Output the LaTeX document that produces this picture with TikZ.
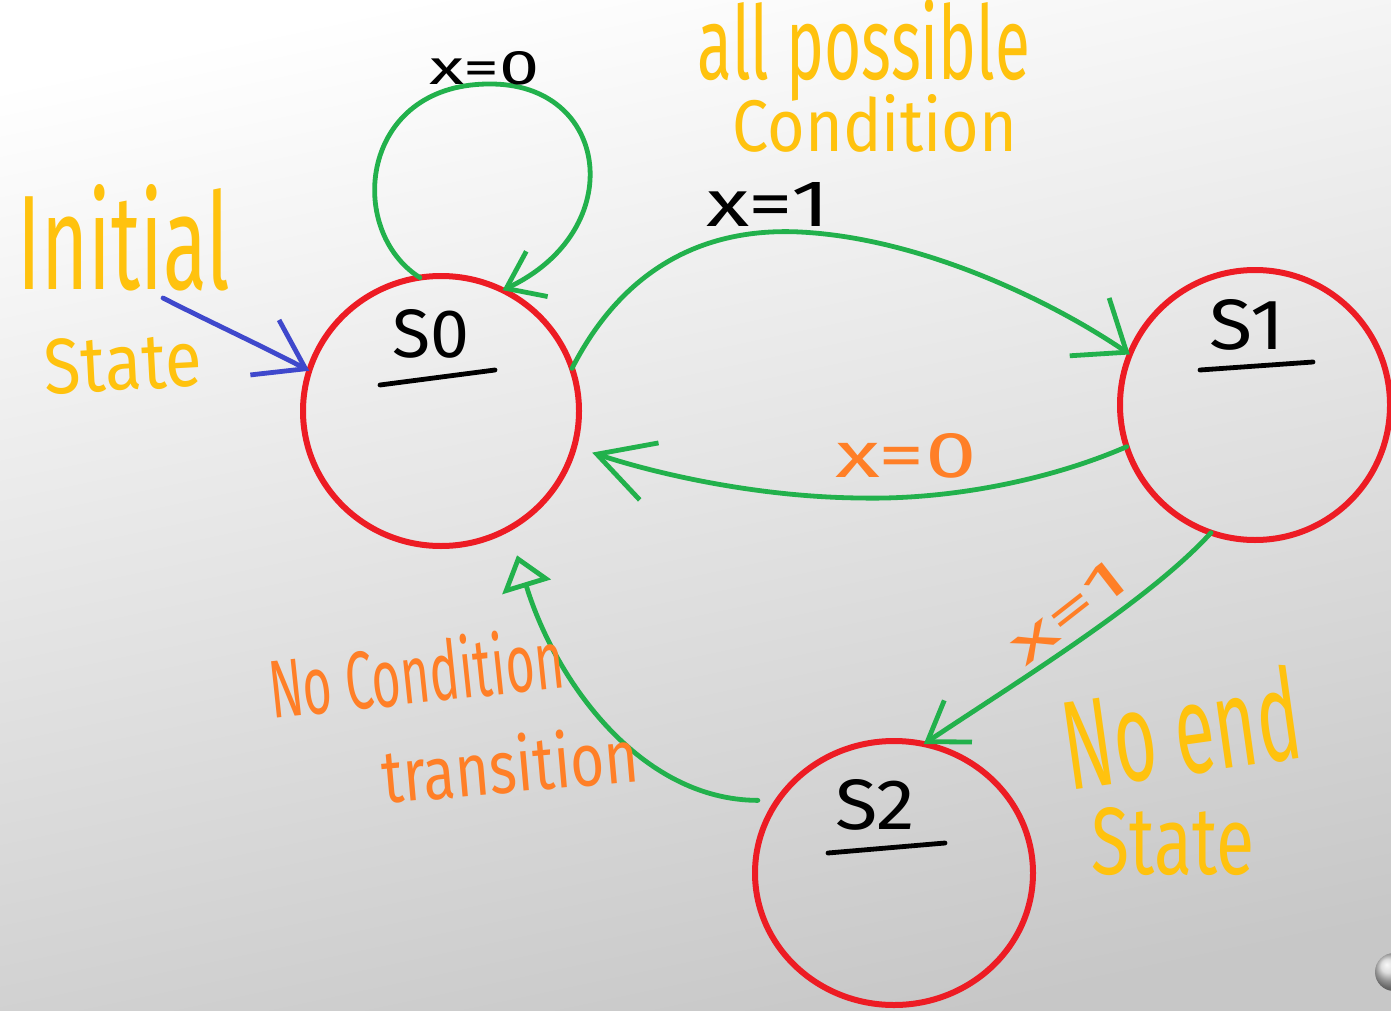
\documentclass[tikz,border=0pt]{standalone}
\usepackage{fontspec}
\setmainfont{Fira Sans}
\usetikzlibrary{arrows.meta,shapes.geometric}
\definecolor{penred}{RGB}{237,28,36}
\definecolor{pengreen}{RGB}{34,177,76}
\definecolor{penyellow}{RGB}{255,194,14}
\definecolor{penorange}{RGB}{255,127,39}
\definecolor{penblue}{RGB}{63,72,204}
% handwritten-style label squeezed into a given box (width, height in pt)
\newcommand{\hw}[3]{\resizebox{#1pt}{#2pt}{#3}}
\begin{document}
\begin{tikzpicture}[x=1pt,y=-1pt,
  state/.style={draw=penred, line width=6pt, ellipse, inner sep=0pt, outer sep=0pt},
  lbl/.style={inner sep=0pt, outer sep=0pt},
  trans/.style={draw=pengreen, line width=4.8pt, line cap=round, line join=round},
  uline/.style={draw=black, line width=4.8pt, line cap=round}]
% canvas and page background
\useasboundingbox (0,0) rectangle (1391,1011);
\shade[top color=white, bottom color=black!22, shading angle=12] (-20,-20) rectangle (1411,1031);
\shade[ball color=black!18] (1394,972) circle (19);

% states
\node[state, minimum width=276pt, minimum height=270pt] (s0) at (441,411) {};
\node[state, minimum width=270pt, minimum height=270pt] (s1) at (1255,405) {};
\node[state, minimum width=278pt, minimum height=264pt] (s2) at (894,873) {};

% state names with underlines
\node[lbl] (n0) at (431,334) {\hw{77}{48}{S0}};
\node[lbl] (n1) at (1247,325) {\hw{75}{50}{S1}};
\node[lbl] (n2) at (875,805) {\hw{80}{50}{S2}};
\draw[uline] (380,385) -- (495,370);
\draw[uline] (1200,370) -- (1313,362);
\draw[uline] (828,853) -- (945,843);

% transitions
\draw[trans, -{Straight Barb[length=34pt,width=50pt]}]
  (s0.99) .. controls (345,230) and (360,85) .. (488,84)
          .. controls (610,82) and (630,230) .. (s0.63);
\draw[trans, -{Straight Barb[length=45pt,width=70pt]}]
  (s0.18) .. controls (630,255) and (720,228) .. (800,232)
          .. controls (920,238) and (1050,300) .. (s1.158);
\draw[trans, shorten >=19pt, -{Straight Barb[length=55pt,width=60pt]}]
  (s1.198) .. controls (1050,480) and (950,500) .. (860,498)
           .. controls (760,497) and (660,475) .. (s0.-15);
\draw[trans, -{Straight Barb[length=37pt,width=50pt]}]
  (s1.251) .. controls (1150,600) and (1020,680) .. (s2.77);
\draw[trans, shorten <=20pt, shorten >=28pt, -{Triangle[open,length=33pt,width=50pt]}]
  (s2.148) .. controls (640,800) and (555,680) .. (s0.-60);

% initial-state pointer
\coordinate (init) at (163,298);
\draw[draw=penblue, line width=4.8pt, line cap=round, -{Straight Barb[length=46pt,width=62pt]}]
  (init) .. controls (210,322) and (260,345) .. (s0.163);

% transition conditions
\node[lbl] (c00) at (485,68) {\hw{110}{33}{x=0}};
\node[lbl] (c01) at (768,204) {\hw{123}{44}{x=1}};
\node[lbl, text=penorange] (c10) at (906,456) {\hw{141}{44}{x=0}};
\node[lbl, text=penorange, rotate=38] (c12) at (1068,612) {\hw{135}{36}{x=1}};

% annotations
\node[lbl, text=penyellow] (tInitial) at (124,238) {\hw{212}{105}{Initial}};
\node[lbl, text=penyellow, rotate=3] (tState) at (123,363) {\hw{157}{55}{State}};
\node[lbl, text=penyellow] (tAll) at (864,50) {\hw{332}{80}{all possible}};
\node[lbl, text=penyellow] (tCond) at (875,123) {\hw{284}{57}{Condition}};
\node[lbl, text=penorange, rotate=6] (tNoCond) at (416,672) {\hw{296}{64}{No Condition}};
\node[lbl, text=penorange, rotate=5] (tTrans) at (510,764) {\hw{257}{58}{transition}};
\node[lbl, text=penyellow, rotate=8] (tNoEnd) at (1181,728) {\hw{238}{95}{No end}};
\node[lbl, text=penyellow] (tState2) at (1173,842) {\hw{163}{67}{State}};
\end{tikzpicture}
\end{document}
